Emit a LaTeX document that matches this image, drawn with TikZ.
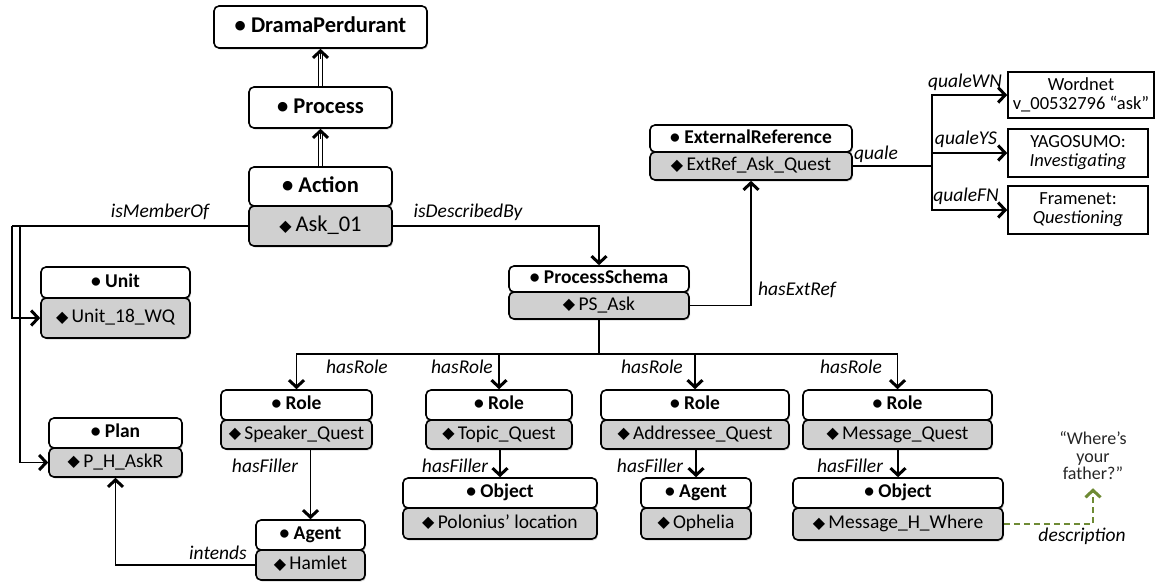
\documentclass[tikz,border=0pt]{standalone}
\usepackage{fontspec}
\setmainfont{Carlito}
\newfontfamily\symf{DejaVu Sans}
\usetikzlibrary{arrows.meta,shadows,calc}
\definecolor{instgray}{RGB}{208,208,208}
\definecolor{descgreen}{RGB}{110,138,52}
\newcommand{\dia}{{\symf\fontsize{16}{16}\selectfont\raisebox{0.5pt}{◆}}\,}
\tikzset{
  boxbase/.style={draw=black, line width=1.6pt, rounded corners=5pt, inner sep=0pt,
    text height=13pt, text depth=4pt,
    drop shadow={shadow xshift=1.2pt, shadow yshift=-1.5pt, opacity=0.3}},
  hdr/.style={boxbase, fill=white, font=\fontsize{19.5}{20}\selectfont\bfseries},
  inst/.style={boxbase, fill=instgray, font=\fontsize{19.5}{20}\selectfont},
  hdrbig/.style={boxbase, fill=white, text height=15pt, text depth=4pt, font=\fontsize{22.5}{23}\selectfont\bfseries},
  instbig/.style={boxbase, fill=instgray, text height=15pt, text depth=4pt, font=\fontsize{22.5}{23}\selectfont},
  extbox/.style={draw=black, line width=1.6pt, fill=white, align=center, inner sep=0pt,
    font=\fontsize{18.5}{19}\selectfont},
  rel/.style={line width=1.6pt, -{Straight Barb[length=7pt,width=15pt,line width=3pt]}},
  plainline/.style={line width=1.6pt},
  lbl/.style={font=\fontsize{19.5}{20}\selectfont\itshape, inner sep=0pt},
  isaline/.style={double, double distance=2.6pt, line width=1.5pt, shorten >=3pt},
  isatip/.style={line width=0.1pt, -{Straight Barb[length=7pt,width=15pt,line width=3pt]}},
  desc/.style={draw=descgreen, line width=2.2pt, dash pattern=on 6pt off 4pt,
    shorten >=8pt, -{Straight Barb[length=7pt,width=15pt,line width=3pt]}},
}
\newcommand{\clsbox}[8]{%
  \node[hdr, minimum width={(#3-#2)*1pt}, minimum height={(#5-#4)*1pt}] (#1h) at ({(#2+#3)/2},{(#4+#5)/2}) {• #7};
  \node[inst, minimum width={(#3-#2)*1pt}, minimum height={(#6-#5)*1pt}] (#1) at ({(#2+#3)/2},{(#5+#6)/2}) {\dia #8};
}
\begin{document}
\begin{tikzpicture}[x=1pt,y=-1pt]
\useasboundingbox (0,0) rectangle (1161,582);

% top hierarchy
\node[hdrbig, minimum width=213pt, minimum height=42pt] (DP) at (320.5,27) {• DramaPerdurant};
\node[hdrbig, minimum width=143pt, minimum height=41pt] (Proc) at (320.5,107.5) {• Process};
\node[hdrbig, minimum width=143pt, minimum height=39pt] (Acth) at (320.5,186.5) {• Action};
\node[instbig, minimum width=143pt, minimum height=40pt] (Ask) at (320.5,226) {\dia Ask\_01};

% class boxes
\clsbox{Unit}{41}{190}{267}{298}{338}{Unit}{Unit\_18\_WQ}
\clsbox{Plan}{49}{182}{418}{448}{477}{Plan}{P\_H\_AskR}
\clsbox{PS}{509}{689}{266}{292}{319}{ProcessSchema}{PS\_Ask}
\clsbox{ER}{650}{852}{125}{152}{180}{ExternalReference}{ExtRef\_Ask\_Quest}
\clsbox{Ra}{221}{372}{390}{420}{449}{Role}{Speaker\_Quest}
\clsbox{Rb}{426}{572}{390}{420}{449}{Role}{Topic\_Quest}
\clsbox{Rc}{601}{789}{390}{420}{449}{Role}{Addressee\_Quest}
\clsbox{Rd}{803}{992}{390}{420}{449}{Role}{Message\_Quest}
\clsbox{Fa}{256}{365}{520}{550}{580}{Agent}{Hamlet}
\clsbox{Fb}{403}{597}{478}{508}{539}{Object}{Polonius’ location}
\clsbox{Fc}{641}{751}{478}{508}{539}{Agent}{Ophelia}
\clsbox{Fd}{793}{1003}{478}{508}{540}{Object}{Message\_H\_Where}

% external resources
\node[extbox, minimum width=146pt, minimum height=46pt] (WN) at (1081,95) {Wordnet\\v\_00532796 “ask”};
\node[extbox, minimum width=140pt, minimum height=48pt] (YS) at (1078,153) {YAGOSUMO:\\\textit{Investigating}};
\node[extbox, minimum width=140pt, minimum height=48pt] (FN) at (1078,210) {Framenet:\\\textit{Questioning}};

% quote
\node[font=\fontsize{18}{17.5}\selectfont, align=center, text=black!85, inner sep=0pt] (quote) at (1093,456) {“Where’s\\your\\father?”};

% is-a arrows
\draw[isaline] (Acth.north) -- (Proc.south);
\draw[isatip] ([yshift=-10pt]Proc.south) -- (Proc.south);
\draw[isaline] (Proc.north) -- (DP.south);
\draw[isatip] ([yshift=-10pt]DP.south) -- (DP.south);

% isMemberOf
\coordinate (mA) at (12,226);
\coordinate (mB) at (20,226);
\draw[plainline] (Ask.west) -- (mA);
\draw[rel] (mA) |- (Unit.west);
\draw[rel] (mB) |- (Plan.west);

% isDescribedBy
\draw[rel] (Ask.east) -| (PSh.north);

% hasExtRef
\draw[rel] (PS.east) -| (ER.south);

% quale
\coordinate (qj) at (932,166);
\draw[plainline] (ER.east) -- (qj);
\draw[rel] (qj) |- (WN.west);
\draw[rel] (qj) |- (YS.west);
\draw[rel] (qj) |- (FN.west);

% hasRole
\coordinate (bus) at (599,354);
\draw[plainline] (PS.south) -- (bus);
\draw[rel] (bus) -| (Rah.north);
\draw[rel] (bus) -| (Rbh.north);
\draw[rel] (bus) -| (Rch.north);
\draw[rel] (bus) -| (Rdh.north);

% hasFiller
\draw[rel] (Ra.south -| Fah.north) -- (Fah.north);
\draw[rel] (Rb.south -| Fbh.north) -- (Fbh.north);
\draw[rel] (Rc.south -| Fch.north) -- (Fch.north);
\draw[rel] (Rd.south -| Fdh.north) -- (Fdh.north);

% intends
\draw[rel] (Fa.west) -| (Plan.south);

% description
\draw[desc] (Fd.east) -| (quote.south);

% labels
\node[lbl] (lMem) at (160,212) {isMemberOf};
\node[lbl] (lDesc) at (468,212) {isDescribedBy};
\node[lbl] (lExt) at (797,290) {hasExtRef};
\node[lbl] (lq) at (876,154) {quale};
\node[lbl] (lWN) at (965,82) {qualeWN};
\node[lbl] (lYS) at (966,139) {qualeYS};
\node[lbl] (lFN) at (966,196) {qualeFN};
\node[lbl] (lRa) at (357,367) {hasRole};
\node[lbl] (lRb) at (462,367) {hasRole};
\node[lbl] (lRc) at (652,367) {hasRole};
\node[lbl] (lRd) at (851,367) {hasRole};
\node[lbl] (lFa) at (265,466) {hasFiller};
\node[lbl] (lFb) at (455,466) {hasFiller};
\node[lbl] (lFc) at (650,466) {hasFiller};
\node[lbl] (lFd) at (850,466) {hasFiller};
\node[lbl] (lInt) at (218,553) {intends};
\node[lbl] (lD) at (1082,536) {description};
\end{tikzpicture}
\end{document}
